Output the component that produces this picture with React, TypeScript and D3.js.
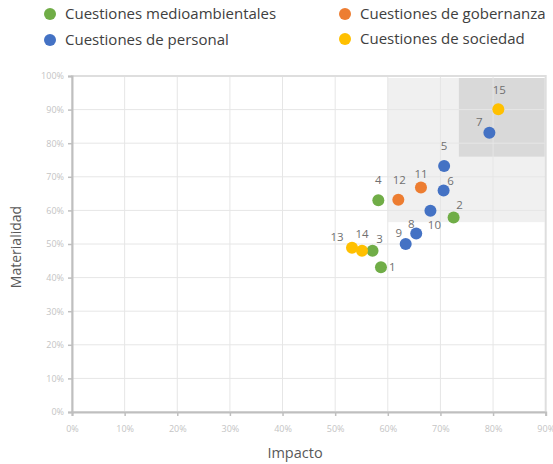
import { useEffect, useRef } from 'react'
import * as d3 from 'd3'

// point ids, impacto (x %), materialidad (y %), category
const ids = [1, 2, 3, 4, 5, 6, 7, 8, 9, 10, 11, 12, 13, 14, 15]
const impacto = [58.7, 72.5, 57.1, 58.2, 70.7, 70.6, 79.3, 65.4, 63.4, 68.1, 66.3, 62.0, 53.2, 55.1, 81.0]
const materialidad = [43.1, 57.9, 48.0, 63.0, 73.2, 65.9, 83.1, 53.1, 50.0, 59.9, 66.8, 63.2, 48.9, 48.0, 90.1]
const categoria = ['med', 'med', 'med', 'med', 'per', 'per', 'per', 'per', 'per', 'per', 'gob', 'gob', 'soc', 'soc', 'soc']

const categories = ['med', 'gob', 'per', 'soc']
const categoryNames = [
  'Cuestiones medioambientales',
  'Cuestiones de gobernanza',
  'Cuestiones de personal',
  'Cuestiones de sociedad',
]
const categoryColors = ['#70ad47', '#ed7d31', '#4472c4', '#ffc000']

const xTicks = [0, 10, 20, 30, 40, 50, 60, 70, 80, 90]
const yTicks = [0, 10, 20, 30, 40, 50, 60, 70, 80, 90, 100]

// shaded zones [x0, x1, y0, y1] in %
const zoneLight = [60, 90, 56.5, 100]
const zoneDark = [73.5, 90, 76, 100]

// label placement around each point (pixels)
const labelOffsets: Record<number, [number, number, string]> = {
  1: [8, 0, 'start'],
  2: [6, -12, 'middle'],
  3: [7, -12, 'middle'],
  4: [0, -20, 'middle'],
  5: [0, -20, 'middle'],
  6: [7, -10, 'middle'],
  7: [-10, -11, 'middle'],
  8: [-5, -10, 'middle'],
  9: [-7, -11, 'middle'],
  10: [4, 14, 'middle'],
  11: [0, -14, 'middle'],
  12: [1, -20, 'middle'],
  13: [-15, -11, 'middle'],
  14: [0, -17, 'middle'],
  15: [1, -19, 'middle'],
}

export default function App() {
  const svgRef = useRef<SVGSVGElement | null>(null)

  useEffect(() => {
    if (!svgRef.current) return
    const width = 553
    const height = 464
    const left = 72
    const right = 545.7
    const top = 76
    const bottom = 412

    const svg = d3.select(svgRef.current)
    svg.selectAll('*').remove()
    svg.attr('width', width).attr('height', height).style('font-family', 'Open Sans, sans-serif')

    const x = d3.scaleLinear().domain([0, 90]).range([left, right])
    const y = d3.scaleLinear().domain([0, 100]).range([bottom, top])
    const color = d3.scaleOrdinal<string, string>().domain(categories).range(categoryColors)

    // shaded zones
    const zone = (z: number[], fill: string) =>
      svg
        .append('rect')
        .attr('x', x(z[0]))
        .attr('y', y(z[3]) + 2)
        .attr('width', x(z[1]) - x(z[0]) - 1)
        .attr('height', y(z[2]) - y(z[3]) - 2)
        .attr('fill', fill)
    zone(zoneLight, '#f0f0f0')
    zone(zoneDark, '#d9d9d9')

    // gridlines
    svg
      .append('g')
      .selectAll('line')
      .data(xTicks.slice(1, -1))
      .enter()
      .append('line')
      .attr('x1', d => x(d))
      .attr('x2', d => x(d))
      .attr('y1', top)
      .attr('y2', bottom)
      .attr('stroke', '#e6e6e6')
      .attr('stroke-width', 1)
    svg
      .append('g')
      .selectAll('line')
      .data(yTicks.slice(1, -1))
      .enter()
      .append('line')
      .attr('x1', left)
      .attr('x2', right)
      .attr('y1', d => y(d))
      .attr('y2', d => y(d))
      .attr('stroke', '#e6e6e6')
      .attr('stroke-width', 1)

    // frame
    svg
      .append('rect')
      .attr('x', left)
      .attr('y', top)
      .attr('width', right - left)
      .attr('height', bottom - top)
      .attr('fill', 'none')
      .attr('stroke', '#dedede')
      .attr('stroke-width', 2)

    // axes
    const xAxis = svg
      .append('g')
      .attr('transform', `translate(0,${bottom})`)
      .call(d3.axisBottom(x).tickValues(xTicks).tickSize(4).tickFormat(d => `${d}%`))
    const yAxis = svg
      .append('g')
      .attr('transform', `translate(${left},0)`)
      .call(d3.axisLeft(y).tickValues(yTicks).tickSize(4).tickFormat(d => `${d}%`))
    ;[xAxis, yAxis].forEach(a => {
      a.select('.domain').attr('stroke', '#bfbfbf').attr('stroke-width', 2)
      a.selectAll('.tick line').attr('stroke', '#bfbfbf').attr('stroke-width', 1.5)
      a.selectAll('.tick text')
        .attr('fill', '#c4c4c4')
        .style('font-size', '9px')
        .style('font-family', 'Open Sans, sans-serif')
    })
    xAxis.selectAll('.tick text').attr('dy', '1.4em')
    yAxis.selectAll('.tick text').attr('dx', '-1px')

    // axis titles
    svg
      .append('text')
      .attr('x', 295)
      .attr('y', 458)
      .attr('text-anchor', 'middle')
      .attr('fill', '#595959')
      .style('font-size', '14.5px')
      .text('Impacto')
    svg
      .append('text')
      .attr('transform', `translate(21,247) rotate(-90)`)
      .attr('text-anchor', 'middle')
      .attr('fill', '#595959')
      .style('font-size', '14px')
      .text('Materialidad')

    // points
    const data = ids.map((id, i) => ({ id, x: impacto[i], y: materialidad[i], c: categoria[i] }))
    svg
      .append('g')
      .selectAll('circle')
      .data(data)
      .enter()
      .append('circle')
      .attr('cx', d => x(d.x))
      .attr('cy', d => y(d.y))
      .attr('r', 6)
      .attr('fill', d => color(d.c))

    svg
      .append('g')
      .selectAll('text')
      .data(data)
      .enter()
      .append('text')
      .attr('x', d => x(d.x) + labelOffsets[d.id][0])
      .attr('y', d => y(d.y) + labelOffsets[d.id][1])
      .attr('dy', '0.35em')
      .attr('text-anchor', d => labelOffsets[d.id][2])
      .attr('fill', '#707070')
      .style('font-size', '11.5px')
      .text(d => d.id)

    // legend
    const legendPos = [
      [50, 14],
      [345, 14],
      [50, 40],
      [345, 39],
    ]
    categories.forEach((c, i) => {
      const g = svg.append('g').attr('transform', `translate(${legendPos[i][0]},${legendPos[i][1]})`)
      g.append('circle').attr('r', 6).attr('fill', color(c))
      g.append('text')
        .attr('x', 15)
        .attr('dy', '0.35em')
        .attr('fill', '#404040')
        .style('font-size', '15px')
        .text(categoryNames[i])
    })
  }, [])

  return (
    <div>
      <style>{'body{margin:0}'}</style>
      <svg ref={svgRef}></svg>
    </div>
  )
}
